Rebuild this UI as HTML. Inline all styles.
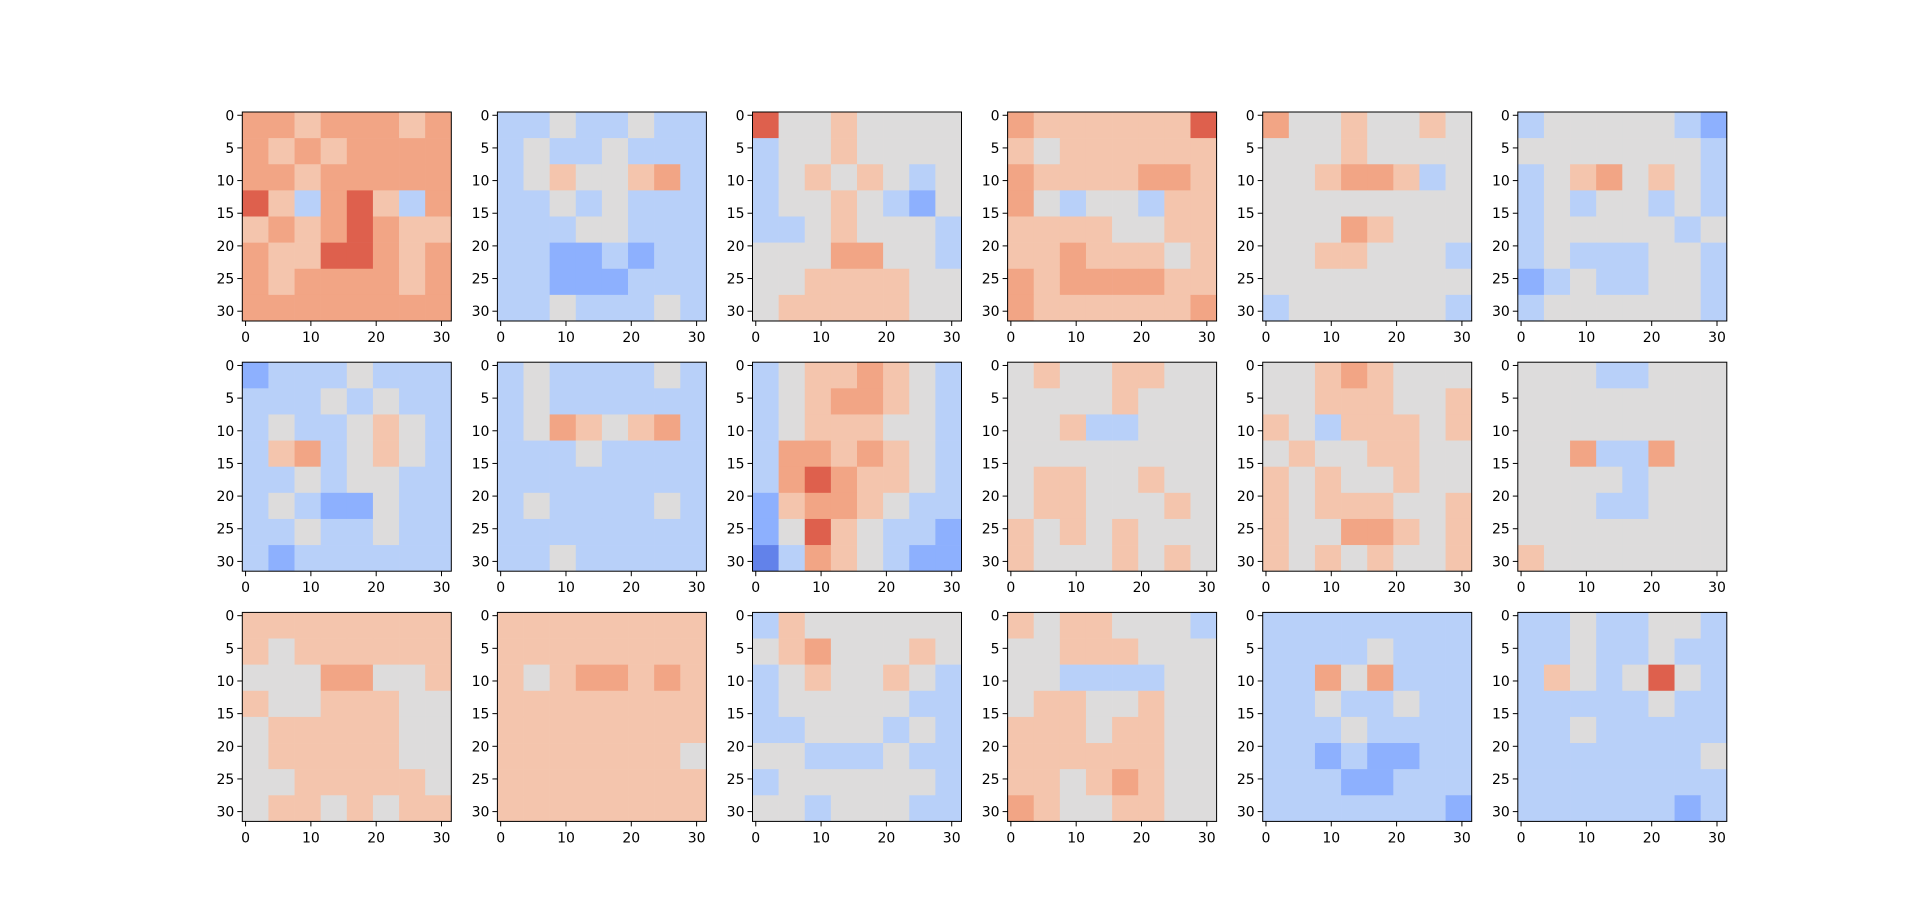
<!DOCTYPE html>
<html><head><meta charset="utf-8"><style>
html,body{margin:0;padding:0;background:#fff;}
svg{display:block;}
text{font-family:"DejaVu Sans","Liberation Sans",sans-serif;font-size:14px;fill:#000;}
</style></head>
<body>
<svg id="fig" width="1920" height="923"></svg>
<script>
// data: 18 panels, 8x8 coarse grid each (levels 0..8, 4 = neutral), rows top->bottom
const panel1 = ["66566656","65656666","66566666","75367536","56567655","65577656","65666656","66666666"];
const panel2 = ["33433433","34334333","34544563","33434333","33344333","33223233","33222333","33433343"];
const panel3 = ["74454444","34454444","34545434","34454324","33454443","44466443","44555544","45555544"];
const panel4 = ["65555557","54555555","65555665","64344355","55554455","55655545","65666655","65555556"];
const panel5 = ["64454454","44454444","44566534","44444444","44465444","44554443","44444444","34444443"];
const panel6 = ["34444432","44444443","34564543","34344343","34444434","34333443","23433443","34444443"];
const panel7 = ["23334333","33343433","34334543","35634543","33434433","34322433","33433433","32333333"];
const panel8 = ["34333343","34333333","34654563","33343333","33333333","34333343","33333333","33433333"];
const panel9 = ["34556543","34566543","34555443","36656543","36765543","25665433","24754332","13654322"];
const panel10 = ["45445544","44445444","44533444","44444444","45544544","45544454","54545444","54445454"];
const panel11 = ["44565444","44555445","54355545","45445544","54544544","54555445","54466545","54545445"];
const panel12 = ["44433444","44444444","44444444","44633644","44443444","44433444","44444444","54444444"];
const panel13 = ["55555555","54555555","44466445","54455544","45555544","45555544","44555554","45545455"];
const panel14 = ["55555555","55555555","54566565","55555555","55555555","55555554","55555555","55555555"];
const panel15 = ["35444444","45644454","34544543","34444433","33444343","44333433","34444443","44344433"];
const panel16 = ["54554443","44555444","44333344","45544544","55545544","55555544","55456544","65445544"];
const panel17 = ["33333333","33334333","33646333","33433433","33343333","33232233","33322333","33333332"];
const panel18 = ["33433443","33433433","35434743","33333433","33433333","33333334","33333333","33333323"];
const panels = [panel1,panel2,panel3,panel4,panel5,panel6,panel7,panel8,panel9,panel10,panel11,panel12,panel13,panel14,panel15,panel16,panel17,panel18];
const yTicks = [0,5,10,15,20,25,30];
const xTicks = [0,10,20,30];
const cmap = ["#3b4cc0","#6282ea","#8db0fe","#b8d0f9","#dddcdc","#f4c5ad","#f2a585","#de604d","#b40426"];

const NS = "http://www.w3.org/2000/svg";
const svg = document.getElementById('fig');
const L0 = 242.3, T0 = 112, DX = 255.1, DY = 250.2, W = 209, N = 32;
const cw = W / N;
function mk(tag, attrs, parent){ const e=document.createElementNS(NS,tag); for(const k in attrs) e.setAttribute(k,attrs[k]); parent.appendChild(e); return e; }

panels.forEach((p, i) => {
  const col = i % 6, row = Math.floor(i / 6);
  const left = L0 + col*DX, top = T0 + row*DY;
  const xs = u => left + (u + 0.5)*cw;
  const ys = v => top + (v + 0.5)*cw;
  const g = mk('g', {}, svg);
  
  
  const B = N / p.length;
  p.forEach((rowStr, r) => {
    for (let c = 0; c < rowStr.length; c++) {
      const v = +rowStr[c];
      const x0 = xs(c*B - 0.5), y0 = ys(r*B - 0.5);
      const rc = mk('rect', {x:x0, y:y0, width:xs((c+1)*B-0.5)-x0+0.3, height:ys((r+1)*B-0.5)-y0+0.3, fill:cmap[v]}, g);
      
      
    }
  });
  const fr = mk('rect', {x:left, y:top, width:W, height:W, fill:'none', stroke:'#000', 'stroke-width':1}, g);
  
  
  yTicks.forEach(t => {
    const y = ys(t);
    mk('line', {x1:left-5, x2:left, y1:y, y2:y, stroke:'#000', 'stroke-width':1}, g);
    const tx = mk('text', {x:left-8, y:y+5, 'text-anchor':'end'}, g);
    tx.textContent = t;
    
    
  });
  xTicks.forEach(t => {
    const x = xs(t);
    mk('line', {x1:x, x2:x, y1:top+W, y2:top+W+5, stroke:'#000', 'stroke-width':1}, g);
    const tx = mk('text', {x:x, y:top+W+21, 'text-anchor':'middle'}, g);
    tx.textContent = t;
    
    
  });
});
</script>
</body></html>
